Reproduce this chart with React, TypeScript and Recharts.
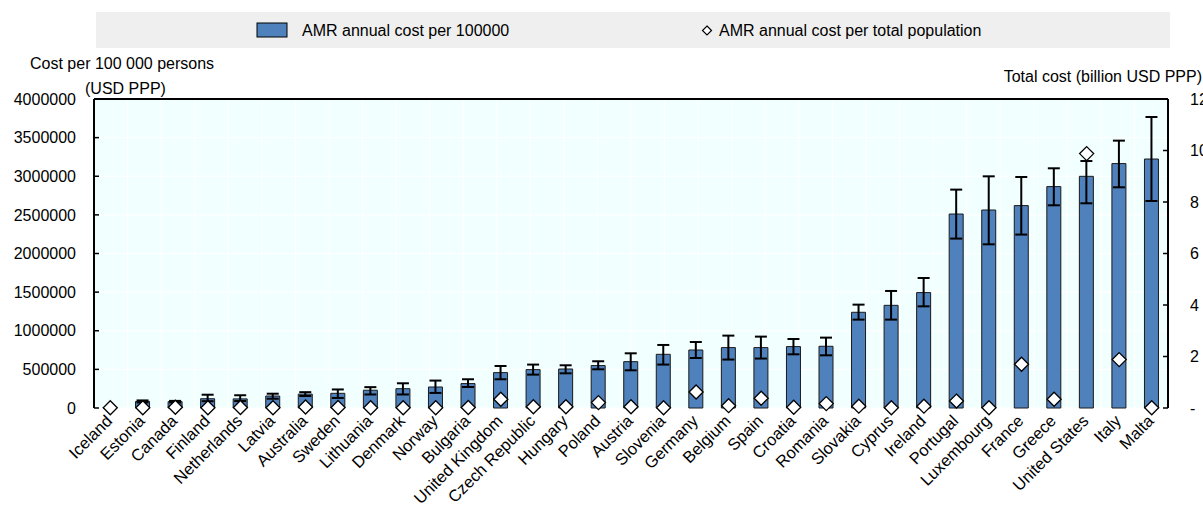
import React from "react"
import {
  ComposedChart,
  Bar,
  Line,
  ErrorBar,
  XAxis,
  YAxis,
  CartesianGrid,
  ReferenceLine,
} from "recharts"

const countries = [
  "Iceland", "Estonia", "Canada", "Finland", "Netherlands", "Latvia", "Australia",
  "Sweden", "Lithuania", "Denmark", "Norway", "Bulgaria", "United Kingdom",
  "Czech Republic", "Hungary", "Poland", "Austria", "Slovenia", "Germany", "Belgium",
  "Spain", "Croatia", "Romania", "Slovakia", "Cyprus", "Ireland", "Portugal",
  "Luxembourg", "France", "Greece", "United States", "Italy", "Malta",
]

// cost per 100 000 persons (USD PPP), with low / high bounds
const costPer100k = [
  5000, 85000, 82000, 120000, 118000, 155000, 180000, 190000, 230000, 250000, 272000,
  316000, 458000, 497000, 505000, 549000, 600000, 695000, 751000, 782000, 782000,
  795000, 799000, 1239000, 1329000, 1494000, 2511000, 2563000, 2620000, 2866000,
  2999000, 3164000, 3223000,
]
const costLow = [
  5000, 72000, 72000, 88000, 90000, 120000, 155000, 130000, 175000, 175000, 195000,
  272000, 372000, 432000, 449000, 501000, 488000, 562000, 647000, 627000, 640000,
  695000, 682000, 1144000, 1144000, 1316000, 2193000, 2119000, 2245000, 2624000,
  2650000, 2857000, 2680000,
]
const costHigh = [
  5000, 98000, 92000, 172000, 165000, 185000, 205000, 240000, 270000, 320000, 355000,
  372000, 544000, 562000, 553000, 605000, 708000, 816000, 854000, 937000, 924000,
  893000, 911000, 1338000, 1515000, 1683000, 2827000, 2999000, 2990000, 3103000,
  3197000, 3461000, 3767000,
]

// total cost (billion USD PPP)
const totalCost = [
  0.01, 0.01, 0.03, 0.01, 0.02, 0.01, 0.04, 0.02, 0.01, 0.01, 0.01, 0.02, 0.34, 0.05,
  0.05, 0.21, 0.05, 0.01, 0.62, 0.09, 0.38, 0.03, 0.17, 0.07, 0.01, 0.07, 0.27, 0.01,
  1.7, 0.34, 9.88, 1.88, 0.01,
]

const leftTicks = [0, 500000, 1000000, 1500000, 2000000, 2500000, 3000000, 3500000, 4000000]
const rightTicks = [0, 2, 4, 6, 8, 10, 12]
const edgeTicks = countries.map((_, i) => i).concat(countries.length)

const BAR_NAME = "AMR annual cost per 100000"
const DOT_NAME = "AMR annual cost per total population"

const data = countries.map((country, i) => ({
  country,
  cost: costPer100k[i],
  err: [costPer100k[i] - costLow[i], costHigh[i] - costPer100k[i]],
  total: totalCost[i],
}))

const FONT = "'Liberation Sans', Arial, sans-serif"

const CountryTick = (props: any) => {
  const { x, y, payload } = props
  const tx = x + 3
  const ty = y + 12
  return (
    <text
      x={tx}
      y={ty}
      transform={`rotate(-45 ${tx} ${ty})`}
      textAnchor="end"
      fontSize={16.5}
      fill="#000"
      fontFamily={FONT}
    >
      {payload.value}
    </text>
  )
}

const Diamond = (props: any) => {
  const { cx, cy, index } = props
  if (cx == null || cy == null) return <g key={`d-${index}`} />
  const r = 7
  return (
    <path
      key={`d-${index}`}
      d={`M${cx},${cy - r}L${cx + r},${cy}L${cx},${cy + r}L${cx - r},${cy}Z`}
      fill="#fff"
      stroke="#000"
      strokeWidth={1.3}
    />
  )
}

export default function App() {
  return (
    <div style={{ position: "absolute", left: 0, top: 0, width: 1203, height: 506, fontFamily: FONT }}>
      <svg width={1203} height={100} style={{ position: "absolute", left: 0, top: 0 }}>
        <rect x={96} y={12} width={1074} height={36} fill="#efefef" />
        <rect x={257} y={23} width={30} height={14} fill="#4f81bd" stroke="#000" strokeWidth={1} />
        <text x={302} y={36} fontSize={16} fill="#000" fontFamily={FONT}>{BAR_NAME}</text>
        <path d="M707,26L711.5,30.5L707,35L702.5,30.5Z" fill="#fff" stroke="#000" strokeWidth={1.2} />
        <text x={719} y={36} fontSize={16} fill="#000" fontFamily={FONT}>{DOT_NAME}</text>
        <text x={30} y={69} fontSize={16} fill="#000" fontFamily={FONT}>Cost per 100 000 persons</text>
        <text x={85} y={94} fontSize={16} fill="#000" fontFamily={FONT}>(USD PPP)</text>
        <text x={1202} y={82} textAnchor="end" fontSize={16} fill="#000" fontFamily={FONT}>
          Total cost (billion USD PPP)
        </text>
      </svg>
      <ComposedChart
        width={1203}
        height={506}
        data={data}
        margin={{ top: 99, right: 0, left: 0, bottom: 0 }}
        barCategoryGap={0}
      >
        <CartesianGrid
          xAxisId="edges"
          yAxisId="left"
          stroke="#fff"
          strokeWidth={1}
          fill="#f2ffff"
          fillOpacity={1}
        />
        <XAxis
          xAxisId="edges"
          type="number"
          domain={[0, countries.length]}
          allowDataOverflow
          ticks={edgeTicks}
          interval={0}
          height={0}
          axisLine={{ stroke: "#000", strokeWidth: 2 }}
          tickLine={{ stroke: "#000", strokeWidth: 1.5 }}
          tickSize={-6}
          tick={() => <g />}
        />
        <XAxis
          dataKey="country"
          interval={0}
          height={98}
          axisLine={false}
          tickLine={false}
          tickSize={0}
          tickMargin={2}
          tick={<CountryTick />}
        />
        <YAxis
          yAxisId="left"
          orientation="left"
          width={94}
          domain={[0, 4000000]}
          ticks={leftTicks}
          interval={0}
          axisLine={{ stroke: "#000", strokeWidth: 2 }}
          tickLine={{ stroke: "#000", strokeWidth: 1.5 }}
          tickSize={-5}
          tickMargin={23}
          tick={{ fontSize: 16, fill: "#000", fontFamily: FONT }}
        />
        <YAxis
          yAxisId="right"
          orientation="right"
          width={35}
          domain={[0, 12]}
          ticks={rightTicks}
          interval={0}
          axisLine={{ stroke: "#000", strokeWidth: 2 }}
          tickLine={{ stroke: "#000", strokeWidth: 1.5 }}
          tickSize={-5}
          tickMargin={27}
          tickFormatter={(v: number) => (v === 0 ? "-" : String(v))}
          tick={{ fontSize: 16, fill: "#000", fontFamily: FONT, textAnchor: "start" }}
        />
        <ReferenceLine yAxisId="left" y={4000000} stroke="#000" strokeWidth={2} />
        <Bar
          yAxisId="left"
          dataKey="cost"
          name={BAR_NAME}
          fill="#4f81bd"
          stroke="#1a1a1a"
          strokeWidth={1}
          barSize={14}
          isAnimationActive={false}
        >
          <ErrorBar dataKey="err" direction="y" width={6} stroke="#000" strokeWidth={2} isAnimationActive={false} />
        </Bar>
        <Line
          yAxisId="right"
          dataKey="total"
          name={DOT_NAME}
          stroke="none"
          dot={Diamond}
          activeDot={false}
          isAnimationActive={false}
        />
      </ComposedChart>
    </div>
  )
}
